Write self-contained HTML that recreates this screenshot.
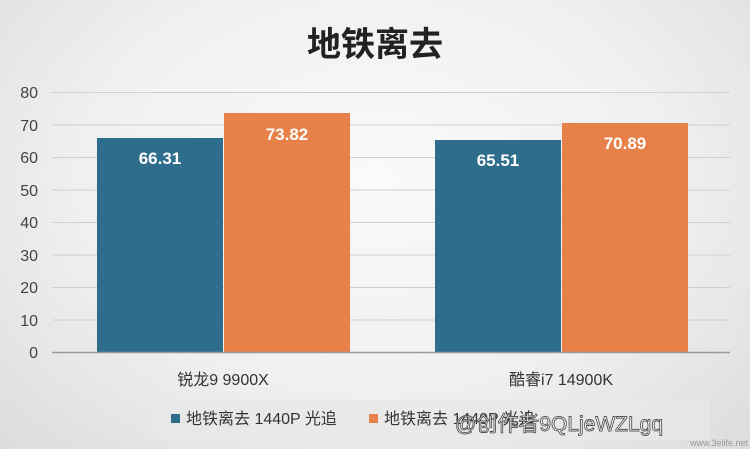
<!DOCTYPE html>
<html><head><meta charset="utf-8"><style>
body{margin:0;width:750px;height:449px;overflow:hidden;background:radial-gradient(ellipse at 50% 40%,#fafafa 0%,#f0f0f0 55%,#dcdcdc 100%);font-family:"Liberation Sans","Noto Sans CJK SC",sans-serif;}
</style></head><body>
<svg width="750" height="449" xmlns="http://www.w3.org/2000/svg" style="position:absolute;left:0;top:0">
<text x="375" y="56" text-anchor="middle" font-size="34" font-weight="bold" fill="#222" font-family="Noto Sans CJK SC, sans-serif">地铁离去</text>
<g stroke="#cfcfcf" stroke-width="1">
<line x1="52" x2="730" y1="92.5" y2="92.5"/><line x1="52" x2="730" y1="125" y2="125"/>
<line x1="52" x2="730" y1="157.5" y2="157.5"/><line x1="52" x2="730" y1="190" y2="190"/>
<line x1="52" x2="730" y1="222.5" y2="222.5"/><line x1="52" x2="730" y1="255" y2="255"/>
<line x1="52" x2="730" y1="287.5" y2="287.5"/><line x1="52" x2="730" y1="320" y2="320"/>
</g>
<g font-size="16" fill="#444" text-anchor="end">
<text x="38" y="98">80</text><text x="38" y="131">70</text><text x="38" y="163">60</text>
<text x="38" y="196">50</text><text x="38" y="228">40</text><text x="38" y="261">30</text>
<text x="38" y="293">20</text><text x="38" y="326">10</text><text x="38" y="358">0</text>
</g>
<rect x="97" y="138" width="126" height="215" fill="#2f6d8c"/>
<rect x="224" y="113" width="126" height="240" fill="#e8804a"/>
<rect x="435" y="140" width="126" height="213" fill="#2f6d8c"/>
<rect x="562" y="123" width="126" height="230" fill="#e8804a"/>
<line x1="52" x2="730" y1="352.5" y2="352.5" stroke="#999" stroke-width="1.5"/>
<g font-size="17" font-weight="bold" fill="#fff" text-anchor="middle">
<text x="160" y="164">66.31</text><text x="287" y="140">73.82</text>
<text x="498" y="166">65.51</text><text x="625" y="149">70.89</text>
</g>
<g font-size="16" fill="#333" text-anchor="middle">
<text x="223" y="385">锐龙9 9900X</text><text x="561" y="385">酷睿i7 14900K</text>
</g>
<rect x="150" y="400" width="560" height="40" fill="#e8e8e8" opacity="0.7"/>
<rect x="171" y="414" width="9" height="9" fill="#2f6d8c"/>
<text x="186" y="424" font-size="16" fill="#333">地铁离去 1440P 光追</text>
<rect x="369" y="414" width="9" height="9" fill="#e8804a"/>
<text x="384" y="424" font-size="16" fill="#333">地铁离去 1440P 光追</text>
<text x="455" y="431" font-size="21" fill="#fff" stroke="#555" stroke-width="0.9">@创作者9QLjeWZLgq</text>
<text x="748" y="446" font-size="9" fill="#999" text-anchor="end">www.3elife.net</text>
</svg>
</body></html>
